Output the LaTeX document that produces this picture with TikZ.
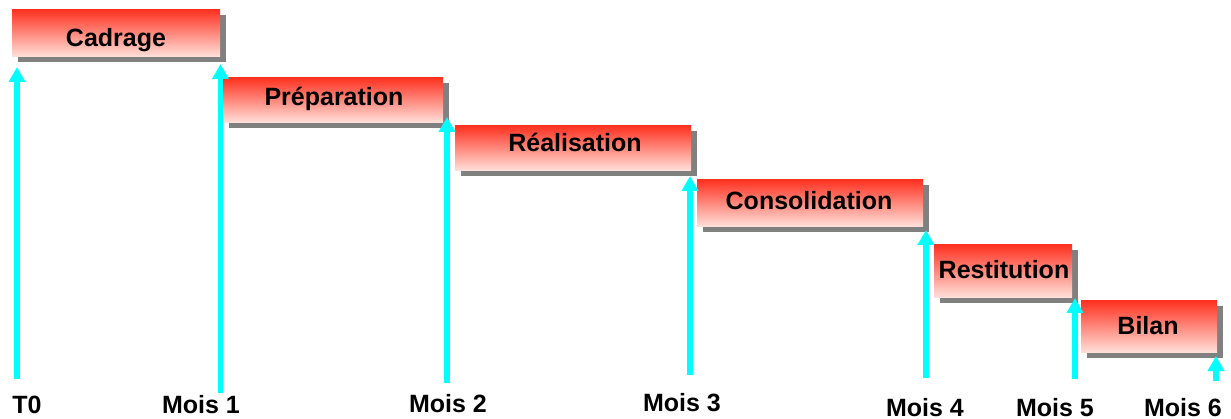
\documentclass[tikz,border=0pt]{standalone}
\usepackage{fontspec}
\setmainfont{Liberation Sans}
\usetikzlibrary{arrows.meta,shadows}
\definecolor{phasetop}{HTML}{FF3322}
\definecolor{phasebot}{HTML}{FFE2DC}
\definecolor{shadowgray}{HTML}{808080}
\definecolor{milestone}{HTML}{00FFFF}
\tikzset{
  phase/.style={draw=none, top color=phasetop, bottom color=phasebot,
    inner sep=0pt, outer sep=0pt,
    general shadow={fill=shadowgray, shadow xshift=5.5pt, shadow yshift=-5.5pt}},
  lbl/.style={font=\fontsize{25}{30}\selectfont\bfseries, inner sep=0pt, anchor=base},
  tick/.style={draw=milestone, line width=5.5pt,
    -{Triangle[width=16pt,length=15pt]}}
}
\newcommand{\phasebox}[5]{% name, left, top, right, bottom
  \node[phase, minimum width={(#4-#2)*1pt}, minimum height={(#5-#3)*1pt}]
    (#1) at ({(#2+#4)/2},{(#3+#5)/2}) {};}
\begin{document}
\begin{tikzpicture}[x=1pt,y=-1pt]
\useasboundingbox (0,0) rectangle (1231,419);

% phase bars
\phasebox{cad}{12}{10}{220}{57}
\phasebox{pre}{223}{78}{443}{123}
\phasebox{rea}{455}{126}{691}{171}
\phasebox{con}{697}{180}{923}{227}
\phasebox{res}{934}{245}{1072}{298}
\phasebox{bil}{1081}{301}{1217}{353}

% phase titles
\node[lbl] (cadt) at (116,47) {Cadrage};
\node[lbl] (pret) at (334,106) {Préparation};
\node[lbl] (reat) at (575,152) {Réalisation};
\node[lbl] (cont) at (809,210) {Consolidation};
\node[lbl] (rest) at (1004,279) {Restitution};
\node[lbl] (bilt) at (1148,335) {Bilan};

% milestone arrows
\coordinate (t0a) at (17,379);   \coordinate (t0b) at (17,67);
\coordinate (m1a) at (220.5,393); \coordinate (m1b) at (220.5,64);
\coordinate (m2a) at (447,383);  \coordinate (m2b) at (447,117);
\coordinate (m3a) at (690,375);  \coordinate (m3b) at (690,176);
\coordinate (m4a) at (926,378);  \coordinate (m4b) at (926,230);
\coordinate (m5a) at (1075,379); \coordinate (m5b) at (1075,298);
\coordinate (m6a) at (1216,381); \coordinate (m6b) at (1216,356);
\foreach \m in {t0,m1,m2,m3,m4,m5,m6}
  \draw[tick] (\m a) -- (\m b);

% milestone labels
\node[lbl] (lt0) at (27,413) {T0};
\node[lbl] (lm1) at (201,413) {Mois 1};
\node[lbl] (lm2) at (448,412) {Mois 2};
\node[lbl] (lm3) at (682,411) {Mois 3};
\node[lbl] (lm4) at (925,416) {Mois 4};
\node[lbl] (lm5) at (1055,416) {Mois 5};
\node[lbl] (lm6) at (1183,416) {Mois 6};
\end{tikzpicture}
\end{document}
